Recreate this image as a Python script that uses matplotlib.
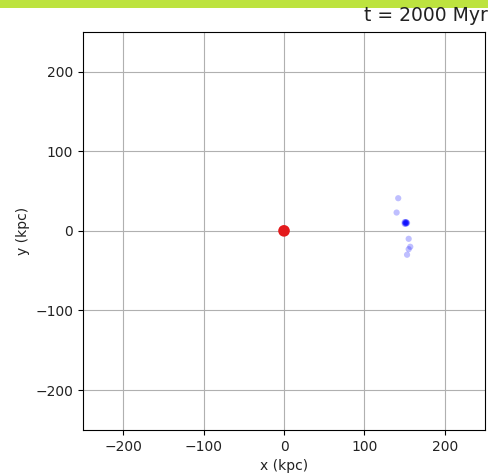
import matplotlib
matplotlib.use('Agg')
from matplotlib import pyplot as plt
from matplotlib.patches import Rectangle

# host galaxy at the origin
host_x = [0]
host_y = [0]

# satellite particles (kpc)
sat_x = [142, 140, 151, 152, 150, 153, 151, 152, 150, 152, 151, 155, 157, 155, 153]
sat_y = [41, 23, 10, 9, 11, 10, 9, 11, 9, 10, 11, -10, -20, -23, -30]

title_text = 't = 2000 Myr'

fig = plt.figure(figsize=(4.88, 4.75), dpi=100)
ax = fig.add_axes([0.170, 0.095, 0.824, 0.838])

ax.scatter(sat_x, sat_y, s=20, color='blue', alpha=0.25, edgecolors='none', zorder=3)
ax.scatter(host_x, host_y, s=70, color='#e31a1c', edgecolors='none', zorder=4)

ax.set_xlim(-250, 250)
ax.set_ylim(-250, 250)
ax.set_xticks([-200, -100, 0, 100, 200])
ax.set_yticks([-200, -100, 0, 100, 200])
ax.grid(True, color='#b0b0b0', linewidth=0.8)
ax.set_axisbelow(True)
ax.set_xlabel('x (kpc)', color='#222222')
ax.set_ylabel('y (kpc)', color='#222222')
ax.tick_params(labelcolor='#222222')

fig.text(0.999, 0.947, title_text, ha='right', va='bottom', fontsize=13.5, color='#222222')

# green strip along the top edge
fig.patches.append(Rectangle((0, 0.984), 1, 0.016, transform=fig.transFigure,
                             facecolor='#bde33f', edgecolor='none'))

plt.savefig('out.png', dpi=100)
